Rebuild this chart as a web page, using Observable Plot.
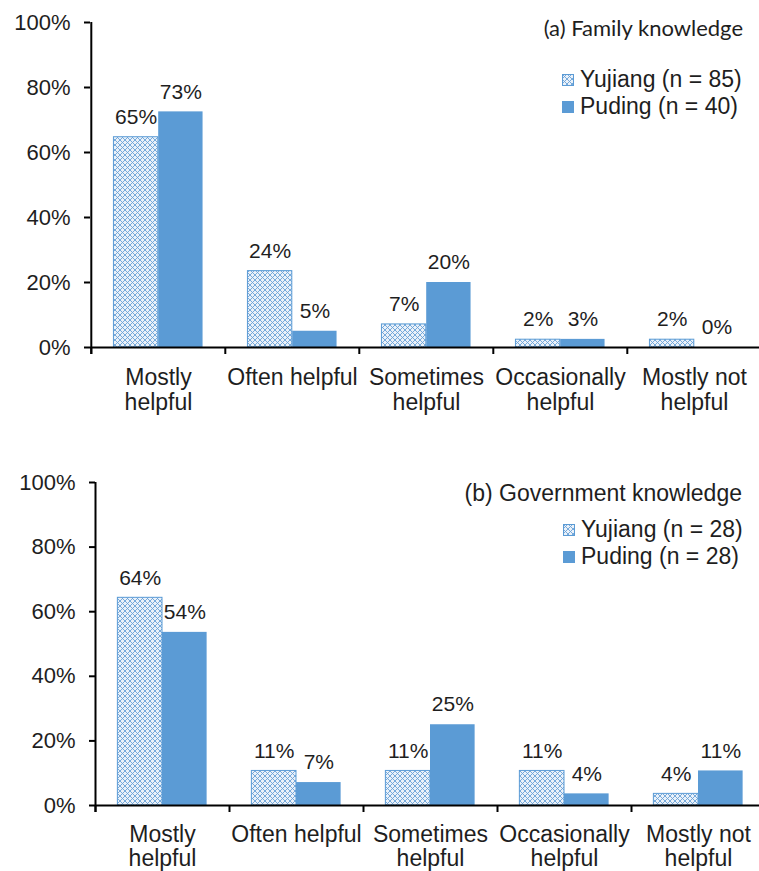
<!DOCTYPE html>
<html><head><meta charset="utf-8">
<script src="https://cdn.jsdelivr.net/npm/d3@7"></script>
<script src="https://cdn.jsdelivr.net/npm/@observablehq/plot@0.6"></script>
<style>
html,body{margin:0;padding:0;background:#fff;overflow:hidden;}
#wrap{position:relative;width:759px;height:871px;overflow:hidden;font-family:"Liberation Sans",Arial,sans-serif;color:#1e1e1e;}
.panel{position:absolute;left:0;}
.title{position:absolute;white-space:nowrap;}
.legend{position:absolute;font-size:23px;line-height:27px;white-space:nowrap;}
.legend .row{display:flex;align-items:center;height:27px;}
.legend svg{margin-right:6px;display:block;}
</style></head><body><div id="wrap"></div>
<script>
// ---- data ----
const categories = ["Mostly\nhelpful", "Often helpful", "Sometimes\nhelpful", "Occasionally\nhelpful", "Mostly not\nhelpful"];
const seriesNames = ["Yujiang", "Puding"];
const familyYujiang = [64.7, 23.5, 7.1, 2.4, 2.4];
const familyPuding  = [72.5, 5.0, 20.0, 2.5, 0.0];
const govYujiang    = [64.3, 10.7, 10.7, 10.7, 3.6];
const govPuding     = [53.6, 7.1, 25.0, 3.6, 10.7];
const yTicks = [0, 20, 40, 60, 80, 100];
const familyLegend = ["Yujiang (n = 85)", "Puding (n = 40)"];
const govLegend = ["Yujiang (n = 28)", "Puding (n = 28)"];
const familyTitle = "(a) Family knowledge";
const govTitle = "(b) Government knowledge";

const BLUE = "#5B9BD5";
const TEXT = "#1e1e1e";
const wrap = document.getElementById("wrap");

function patternDefs(id) {
  return `<pattern id="${id}" width="5" height="5" patternUnits="userSpaceOnUse">
    <rect width="5" height="5" fill="#eaf1f9"/>
    <path d="M0,0L5,5M5,0L0,5" stroke="#6aa2d8" stroke-width="0.9"/>
  </pattern>`;
}

function panel(yv, pv, opt) {
  const {width, height, ml, mt, mb, pid, lh} = opt;
  const bw = (width - ml) / categories.length;
  const gap = bw * 0.167;
  const half = bw / 2;
  const off = (half - gap) / 2;
  const plotH = height - mt - mb;
  const Y = categories.map((c, i) => ({cat: c, s: seriesNames[0], v: yv[i]}));
  const P = categories.map((c, i) => ({cat: c, s: seriesNames[1], v: pv[i]}));
  const svg = Plot.plot({
    width, height,
    marginLeft: ml, marginRight: 0, marginTop: mt, marginBottom: mb,
    style: {fontFamily: "Liberation Sans, Arial, sans-serif", fontSize: "22px", color: TEXT, background: "transparent", overflow: "visible", maxWidth: "none"},
    x: {domain: categories, padding: 0, label: null},
    y: {domain: [0, 100], label: null},
    marks: [
      Plot.barY(Y, {x: "cat", y: "v", fill: `url(#${pid})`, stroke: BLUE, strokeWidth: 1, insetLeft: gap, insetRight: half}),
      Plot.barY(P, {x: "cat", y: "v", fill: BLUE, insetLeft: half, insetRight: gap}),
      Plot.text(Y, {x: "cat", y: "v", text: d => Math.round(d.v) + "%", dx: -off, dy: -20, fontSize: 21, fill: TEXT}),
      Plot.text(P, {x: "cat", y: "v", text: d => Math.round(d.v) + "%", dx: off, dy: -20, fontSize: 21, fill: TEXT}),
      Plot.ruleY([0], {stroke: "#000", strokeWidth: 2}),
      Plot.ruleX(categories, {dx: -half, stroke: "#000", strokeWidth: 2, insetTop: plotH, insetBottom: -7}),
      Plot.ruleX([categories[0]], {dx: -half, stroke: "#000", strokeWidth: 2, insetBottom: -7}),
      Plot.axisY(yTicks, {tickSize: 6, tickPadding: 14, strokeWidth: 2, stroke: "#000", tickFormat: d => d + "%", fontSize: 22, fill: TEXT, label: null}),
      Plot.axisX({tickSize: 0, tickPadding: 20, fontSize: 23, lineHeight: lh, fill: TEXT, label: null})
    ]
  });
  d3.select(svg).insert("defs", ":first-child").html(patternDefs(pid));
  return svg;
}

function addPanel(svg, top) {
  const d = document.createElement("div");
  d.className = "panel";
  d.style.top = top + "px";
  d.appendChild(svg);
  wrap.appendChild(d);
}

function addTitle(text, right, top, font, size, lh) {
  const t = document.createElement("div");
  t.className = "title";
  t.textContent = text;
  t.style.right = right + "px";
  t.style.top = top + "px";
  t.style.fontFamily = font;
  t.style.fontSize = size + "px";
  t.style.lineHeight = lh + "px";
  wrap.appendChild(t);
}

function addLegend(labels, left, top, pid) {
  const l = document.createElement("div");
  l.className = "legend";
  l.style.left = left + "px";
  l.style.top = top + "px";
  labels.forEach((lab, i) => {
    const row = document.createElement("div");
    row.className = "row";
    const sw = i === 0
      ? `<svg width="12" height="12"><rect x="0.5" y="0.5" width="11" height="11" fill="url(#${pid})" stroke="${BLUE}" stroke-width="1"/></svg>`
      : `<svg width="12" height="12"><rect width="12" height="12" fill="${BLUE}"/></svg>`;
    row.innerHTML = sw + `<span>${lab}</span>`;
    l.appendChild(row);
  });
  wrap.appendChild(l);
}

addPanel(panel(familyYujiang, familyPuding, {width: 762, height: 436, ml: 90, mt: 22, mb: 89, pid: "hatchA", lh: 1.09}), 0);
addPanel(panel(govYujiang, govPuding, {width: 765, height: 435, ml: 95, mt: 46, mb: 66, pid: "hatchB", lh: 1.03}), 436);

addTitle(familyTitle, 16, 15, "Lato, 'Open Sans', sans-serif", 22, 26);
addTitle(govTitle, 17, 480, "'Liberation Sans', Arial, sans-serif", 23, 26);
addLegend(familyLegend, 562, 66, "hatchA");
addLegend(govLegend, 563, 516, "hatchB");
</script>
</body></html>
